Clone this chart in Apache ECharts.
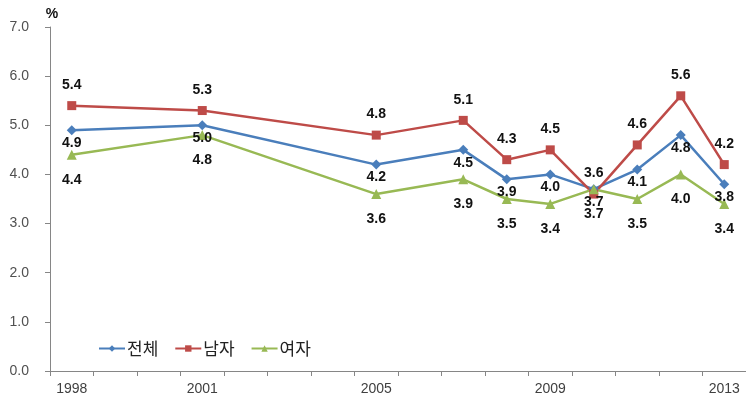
<!DOCTYPE html>
<html>
<head>
<meta charset="utf-8">
<script src="https://cdn.jsdelivr.net/npm/echarts@6/dist/echarts.min.js"></script>
<style>
html,body{margin:0;padding:0;background:#fff;}
#c{width:746px;height:403px;}
</style>
</head>
<body>
<div id="c"></div>
<script>
// Categories: every year on the axis; only surveyed years carry values
var years = ['1998','1999','2000','2001','2002','2003','2004','2005','2006','2007','2008','2009','2010','2011','2012','2013'];
var shownYearLabels = ['1998','2001','2005','2009','2013'];
var seriesNames = ['전체','남자','여자'];
var totalValues  = [4.9, null, null, 5.0, null, null, null, 4.2, null, 4.5, 3.9, 4.0, 3.7, 4.1, 4.8, 3.8];
var maleValues   = [5.4, null, null, 5.3, null, null, null, 4.8, null, 5.1, 4.3, 4.5, 3.6, 4.6, 5.6, 4.2];
var femaleValues = [4.4, null, null, 4.8, null, null, null, 3.6, null, 3.9, 3.5, 3.4, 3.7, 3.5, 4.0, 3.4];
var yTickLabels = ['0.0','1.0','2.0','3.0','4.0','5.0','6.0','7.0'];

var chart = echarts.init(document.getElementById('c'), null, {renderer:'canvas'});
var fontNum = 'Liberation Sans, Arial, sans-serif';
var fontKo = '"Noto Sans CJK KR", sans-serif';

function mk(name, data, color, symbol, symbolSize, pos, dist) {
  return {
    name: name, type: 'line', data: data, connectNulls: true,
    symbol: symbol, symbolSize: symbolSize,
    lineStyle: {color: color, width: 2.5},
    itemStyle: {color: color},
    label: {
      show: true, position: pos, distance: dist,
      formatter: function(p){ return p.value == null ? '' : Number(p.value).toFixed(1); },
      color: '#111', fontSize: 14, fontWeight: 'bold', fontFamily: fontNum
    },
    emphasis: {disabled: true},
    animation: false
  };
}

chart.setOption({
  animation: false,
  grid: {left: 50, right: -5, top: 27, bottom: 32, containLabel: false},
  legend: {
    data: seriesNames,
    left: 93, top: 335,
    itemWidth: 26, itemHeight: 8, itemGap: 16,
    textStyle: {fontSize: 17, color: '#222', fontFamily: fontKo, padding: [0,0,0,-3]}
  },
  xAxis: {
    type: 'category', data: years, boundaryGap: true,
    axisLine: {lineStyle: {color: '#868686', width: 1}},
    axisTick: {show: true, interval: 0, length: 5, alignWithLabel: false, lineStyle: {color: '#868686'}},
    axisLabel: {
      interval: function(i, v){ return shownYearLabels.indexOf(v) >= 0; },
      color: '#404040', fontSize: 14, fontFamily: fontNum, margin: 11
    },
    splitLine: {show: false}
  },
  yAxis: {
    type: 'value', min: 0, max: 7, interval: 1,
    name: '%', nameLocation: 'end', nameGap: 6,
    nameTextStyle: {color: '#111', fontSize: 14, fontWeight: 'bold', fontFamily: fontNum, padding: [0,0,0,4]},
    axisLine: {show: true, lineStyle: {color: '#868686', width: 1}},
    axisTick: {show: true, length: 5, lineStyle: {color: '#868686'}},
    axisLabel: {
      formatter: function(v){ return yTickLabels[Math.round(v)]; },
      color: '#505050', fontSize: 14, fontFamily: fontNum, margin: 21
    },
    splitLine: {show: false}
  },
  series: [
    mk(seriesNames[0], totalValues, '#4a7ebb', 'diamond', 10, 'bottom', 1),
    mk(seriesNames[1], maleValues, '#be4b48', 'rect', 9, 'top', 9),
    mk(seriesNames[2], femaleValues, '#98b954', 'triangle', 10, 'bottom', 13)
  ]
});
</script>
</body>
</html>
